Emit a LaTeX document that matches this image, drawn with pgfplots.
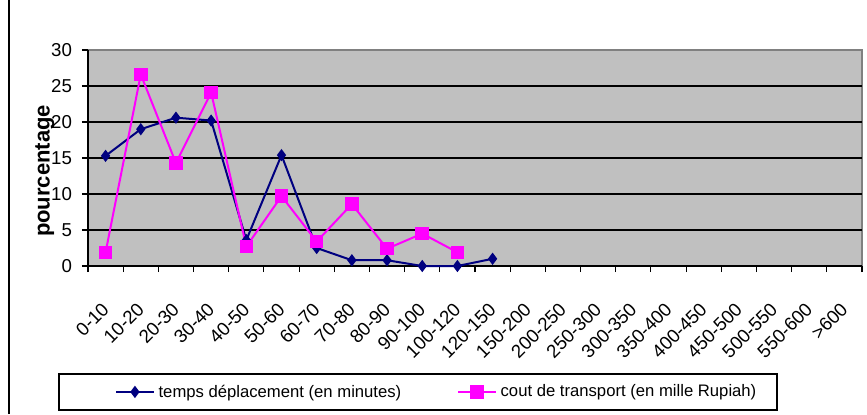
\documentclass[border=0pt]{standalone}
\usepackage{fontspec}
\setmainfont{Liberation Sans}
\usepackage{pgfplots}
\pgfplotsset{compat=1.18}
\definecolor{navy}{RGB}{0,0,128}
\definecolor{pinkm}{RGB}{255,0,255}
\definecolor{plotbg}{RGB}{192,192,192}
\definecolor{frame}{RGB}{128,128,128}
\begin{document}
\begin{tikzpicture}
\useasboundingbox (0,0) rectangle (650.25pt,310.5pt);
\draw[black,line width=0.8pt] (6.75pt,0) -- (6.75pt,310.5pt);
\begin{axis}[
  scale only axis, width=580.5pt, height=162pt,
  at={(66pt,111pt)}, anchor=south west,
  xmin=-0.5, xmax=21.5, ymin=0, ymax=30,
  axis lines=left, axis line style={-,black},
  x axis line style={line width=1.6pt},
  y axis line style={line width=1.1pt},
  axis background/.style={fill=plotbg,draw=frame,line width=1.6pt},
  clip=false,
  tick align=outside, major tick length=4.5pt,
  tick style={black,line width=0.8pt},
  xtick={-0.5,0.5,...,21.5}, xticklabels={},
  xticklabel shift=30pt,
  xticklabel style={rotate=45,anchor=east,inner sep=0pt,font=\fontsize{14}{16}\selectfont},
  extra x ticks={0,1,...,21},
  extra x tick labels={0-10,10-20,20-30,30-40,40-50,50-60,60-70,70-80,80-90,90-100,100-120,120-150,150-200,200-250,250-300,300-350,350-400,400-450,450-500,500-550,550-600,>600},
  extra x tick style={major tick length=0pt},
  ytick={0,5,...,30},
  yticklabel style={xshift=-4pt,font=\fontsize{14}{16}\selectfont},
  /pgf/number format/assume math mode=true,
  extra y ticks={5,10,15,20,25}, extra y tick labels={},
  extra y tick style={major tick length=0pt,ymajorgrids=true,
    major grid style={black,line width=0.8pt}},
  ylabel={\textbf{pourcentage}},
  ylabel style={at={(axis description cs:-0.056,0.44)},anchor=center,font=\fontsize{16.5}{18}\selectfont},
  legend columns=2,
  legend style={at={(axis description cs:0.0349,-0.583)},anchor=west,draw=none,fill=none,
    inner xsep=0pt,inner ysep=0pt,font=\fontsize{12.5}{14}\selectfont,
    cells={anchor=west},
    /tikz/every odd column/.append style={column sep=1pt},
    /tikz/every even column/.append style={column sep=40pt}},
  legend image code/.code={\draw[mark repeat=2,mark phase=2,#1] plot coordinates {(0pt,0pt) (14pt,0pt) (28pt,0pt)};},
]
\addplot[navy,line width=1.5pt,mark=diamond*,mark size=3.4pt,mark options={solid}] coordinates {
(0,15.3) (1,19.0) (2,20.6) (3,20.2) (4,3.6) (5,15.4) (6,2.5) (7,0.8) (8,0.8) (9,0) (10,0) (11,1.0)};
\addplot[pinkm,line width=1.5pt,mark=square*,mark size=4.3pt,mark options={solid}] coordinates {
(0,1.9) (1,26.6) (2,14.3) (3,24.1) (4,2.7) (5,9.7) (6,3.4) (7,8.6) (8,2.4) (9,4.5) (10,1.9)};
\legend{temps déplacement (en minutes),cout de transport (en mille Rupiah)}
\end{axis}
\draw[black,line width=0.8pt] (44.25pt,3pt) rectangle (582.75pt,30pt);
\end{tikzpicture}
\end{document}
